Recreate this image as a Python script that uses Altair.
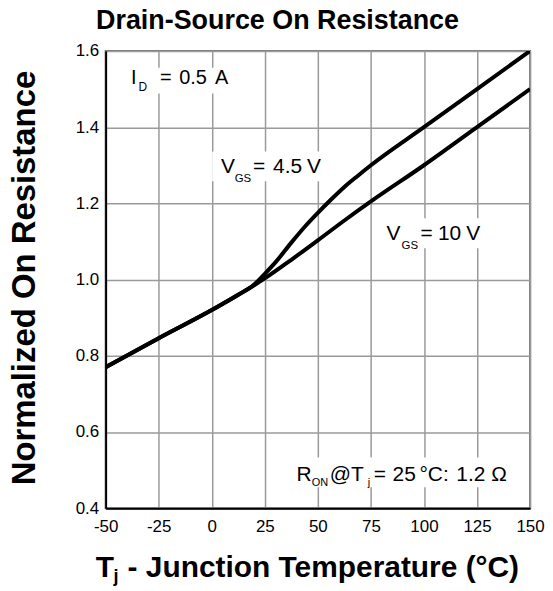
import altair as alt
import pandas as pd

# ---- data ----
temp_45 = [-50, -25, 0, 12.5, 20, 25, 30, 37.5, 43.75, 50, 56.25, 62.5, 68.75, 75, 100, 125, 150]
ron_45 = [0.77, 0.846, 0.92, 0.96, 0.987, 1.015, 1.045, 1.097, 1.138, 1.175, 1.210, 1.243, 1.272, 1.30, 1.40, 1.50, 1.60]

temp_10 = [-50, -25, 0, 12.5, 25, 37.5, 50, 62.5, 75, 100, 125, 150]
ron_10 = [0.77, 0.846, 0.92, 0.96, 1.003, 1.052, 1.103, 1.155, 1.205, 1.30, 1.40, 1.50]

x_grid = [-50, -37.5, -25, -12.5, 0, 12.5, 25, 37.5, 50, 62.5, 75, 87.5, 100, 112.5, 125, 137.5, 150]
y_grid = [0.4, 0.5, 0.6, 0.7, 0.8, 0.9, 1.0, 1.1, 1.2, 1.3, 1.4, 1.5, 1.6]

title_text = "Drain-Source On Resistance"
y_title = "Normalized On Resistance"

df = pd.concat([
    pd.DataFrame({"temp": temp_45, "ron": ron_45, "series": "VGS = 4.5 V"}),
    pd.DataFrame({"temp": temp_10, "ron": ron_10, "series": "VGS = 10 V"}),
])

FONT = "Liberation Sans"
xs = alt.Scale(domain=[-50, 150], nice=False)
ys = alt.Scale(domain=[0.4, 1.6], nice=False, zero=False)

lines = alt.Chart(df).mark_line(color="black", strokeWidth=4, interpolate="monotone", clip=True).encode(
    x=alt.X("temp:Q", scale=xs, axis=alt.Axis(
        values=x_grid, labelExpr="datum.value % 25 == 0 ? toString(datum.value) : ''",
        grid=True, gridColor="#9a9a9a", gridWidth=1.5, ticks=False, tickSize=0,
        labelPadding=10, labelFontSize=17, labelFont=FONT, labelColor="black",
        labelFlush=False, labelOverlap=False, labelBound=False,
        domainColor="black", domainWidth=2, title=None)),
    y=alt.Y("ron:Q", scale=ys, axis=alt.Axis(
        values=y_grid, labelExpr="round(datum.value * 10) % 2 == 0 ? format(datum.value, '.1f') : ''",
        grid=True, gridColor="#9a9a9a", gridWidth=1.5, ticks=False, tickSize=0,
        labelPadding=7, labelFontSize=17, labelFont=FONT, labelColor="black",
        labelFlush=False, labelOverlap=False, labelBound=False,
        domainColor="black", domainWidth=2,
        title=y_title, titleFont=FONT, titleFontSize=33, titleFontWeight="bold", titleColor="black",
        titleAngle=270, titleX=-71, titleY=227.5, titleAlign="center", titleBaseline="alphabetic")),
    detail="series:N",
)

# white label boxes (data coordinates)
boxes = pd.DataFrame({
    "x1": [-42.5, 0.2, 79.6, 37.0],
    "x2": [10.6, 52.8, 129.3, 144.4],
    "y1": [1.556, 1.336, 1.161, 0.533],
    "y2": [1.488, 1.258, 1.082, 0.455],
})
box_layer = alt.Chart(boxes).mark_rect(fill="white").encode(
    x=alt.X("x1:Q", scale=xs), x2="x2:Q", y=alt.Y("y1:Q", scale=ys), y2="y2:Q")

# annotations: (anchor x, anchor y, [(text, dx, dy, size), ...])
annotations = [
    (-38.0, 1.5145, [("I", 0, 0, 20), ("D", 7.5, 7.3, 12), ("=", 29, 0, 20), ("0.5", 48.3, 0, 20), ("A", 84.2, 0, 20)]),
    (4.32, 1.2784, [("V", 0, 0, 21), ("GS", 13.8, 9, 11.5), ("=", 32.3, 0, 21), ("4.5", 52.3, 0, 21), ("V", 86.3, 0, 21)]),
    (82.39, 1.1033, [("V", 0, 0, 21), ("GS", 15.0, 9.3, 11.5), ("=", 34, 0, 21), ("10", 51.5, 0, 21), ("V", 80, 0, 21)]),
    (39.9, 0.4714, [("R", 0, 0, 21), ("ON", 15.5, 5, 11), ("@T", 33.5, 0, 21), ("j", 71.5, 5, 11),
                    ("=", 77.5, 0, 21), ("25", 96.5, 0, 21), ("°C:", 123.5, 0, 21), ("1.2", 160.5, 0, 21), ("Ω", 195.5, 0, 21)]),
]
text_layers = []
for ax, ay, parts in annotations:
    for txt, dx, dy, size in parts:
        text_layers.append(
            alt.Chart().mark_text(text=txt, align="left", baseline="alphabetic", dx=dx, dy=dy,
                                  font=FONT, fontSize=size, color="black").encode(
                x=alt.X(datum=ax, scale=xs),
                y=alt.Y(datum=ay, scale=ys))
        )

# chart title and x-axis title with subscript (plot-relative pixels)
title_layer = alt.Chart().mark_text(text=title_text, align="center", baseline="alphabetic", font=FONT,
                                    fontSize=27, fontWeight="bold", color="black").encode(
    x=alt.value(172.5), y=alt.value(-22))
text_layers.append(title_layer)

xt_parts = [("T", -10, 528, 30), ("j", 8, 533, 18), ("- Junction Temperature (°C)", 22, 528, 30)]
for txt, px, py, size in xt_parts:
    text_layers.append(
        alt.Chart().mark_text(text=txt, align="left", baseline="alphabetic", font=FONT,
                              fontSize=size, fontWeight="bold", color="black").encode(
            x=alt.value(px), y=alt.value(py))
    )

chart = alt.layer(lines, box_layer, *text_layers).properties(
    width=426, height=459,
    autosize=alt.AutoSizeParams(type="none"),
    padding={"left": 98, "top": 42, "right": 15, "bottom": 82},
).configure_view(stroke="#7a7a7a", strokeWidth=2)

chart.save("out.html", embed_options={"renderer": "svg", "actions": False})
